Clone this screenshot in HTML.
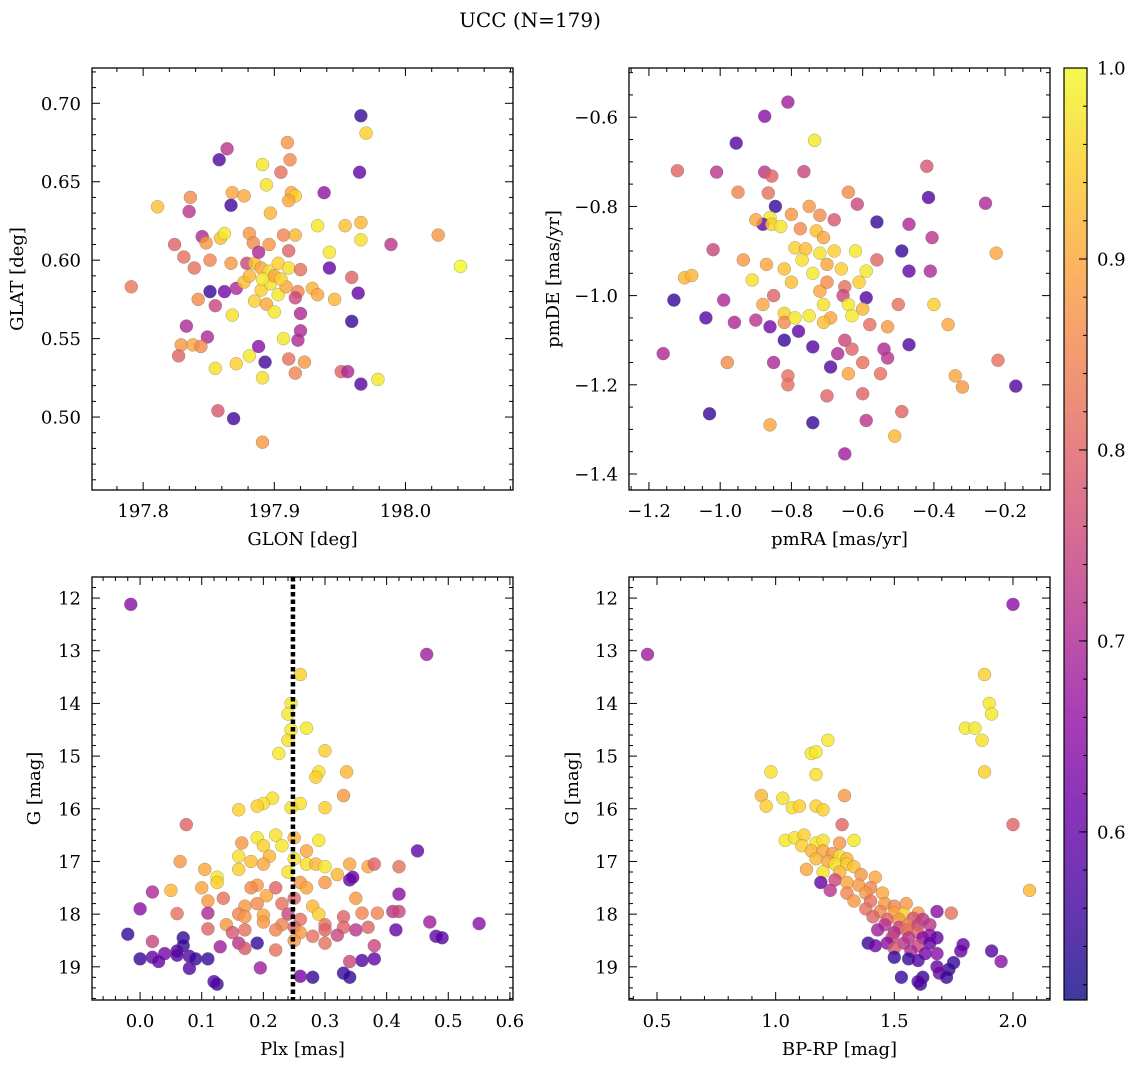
<!DOCTYPE html>
<html><head><meta charset="utf-8">
<style>
html,body{margin:0;padding:0;background:#fff;}
svg{display:block;font-family:"DejaVu Serif","Liberation Serif",serif;}
</style></head>
<body>
<svg id="fig" width="1136" height="1067" viewBox="0 0 1136 1067" xmlns="http://www.w3.org/2000/svg">
<defs>
<linearGradient id="cbgrad" x1="0" y1="1" x2="0" y2="0">
<stop offset="0" stop-color="#0d0887"/><stop offset="0.1" stop-color="#41049d"/><stop offset="0.2" stop-color="#6a00a8"/><stop offset="0.3" stop-color="#8f0da4"/><stop offset="0.4" stop-color="#b12a90"/><stop offset="0.5" stop-color="#cc4778"/><stop offset="0.6" stop-color="#e16462"/><stop offset="0.7" stop-color="#f2844b"/><stop offset="0.8" stop-color="#fca636"/><stop offset="0.9" stop-color="#fcce25"/><stop offset="1" stop-color="#f0f921"/>
</linearGradient>
</defs>
<text x="530" y="27" font-size="20" text-anchor="middle">UCC (N=179)</text>
</svg>
<script>
// Panel 1: GLON / GLAT
const glon=[197.966,197.970,197.858,197.864,197.910,197.891,197.912,197.905,197.965,197.938,197.894,197.913,197.868,197.811,197.867,197.836,197.835,197.916,197.911,197.877,197.897,197.933,197.954,197.966,198.025,198.042,197.989,197.845,197.848,197.859,197.862,197.881,197.884,197.896,197.907,197.916,197.942,197.966,197.824,197.831,197.851,197.867,197.879,197.885,197.890,197.896,197.903,197.911,197.920,197.942,197.959,197.791,197.839,197.842,197.851,197.862,197.871,197.877,197.890,197.897,197.903,197.909,197.918,197.929,197.933,197.946,197.964,197.959,197.855,197.885,197.894,197.900,197.916,197.920,197.868,197.833,197.849,197.829,197.838,197.844,197.827,197.893,197.881,197.871,197.891,197.911,197.907,197.920,197.918,197.923,197.916,197.888,197.855,197.951,197.956,197.966,197.979,197.857,197.869,197.891,197.900,197.905,197.891,197.881,197.911,197.888];
const glat=[0.692,0.681,0.664,0.671,0.675,0.661,0.664,0.656,0.656,0.643,0.648,0.643,0.643,0.634,0.635,0.640,0.631,0.641,0.638,0.641,0.630,0.622,0.622,0.624,0.616,0.596,0.610,0.615,0.611,0.614,0.617,0.617,0.611,0.610,0.616,0.616,0.605,0.613,0.610,0.602,0.600,0.598,0.598,0.598,0.595,0.593,0.598,0.595,0.594,0.595,0.589,0.583,0.595,0.575,0.580,0.580,0.582,0.586,0.581,0.585,0.578,0.583,0.580,0.582,0.578,0.575,0.579,0.561,0.571,0.574,0.572,0.567,0.576,0.566,0.565,0.558,0.551,0.546,0.546,0.545,0.539,0.535,0.539,0.534,0.525,0.537,0.550,0.555,0.549,0.535,0.528,0.545,0.531,0.529,0.529,0.521,0.524,0.504,0.499,0.484,0.590,0.588,0.588,0.590,0.606,0.605];
const prob1=[0.55,0.95,0.58,0.72,0.88,0.98,0.86,0.82,0.6,0.66,0.97,0.9,0.9,0.93,0.56,0.86,0.72,0.95,0.9,0.9,0.92,0.98,0.93,0.92,0.88,1.0,0.72,0.7,0.88,0.93,0.98,0.88,0.86,0.88,0.85,0.92,0.98,0.97,0.8,0.82,0.85,0.88,0.75,0.93,0.9,0.97,0.95,0.97,0.82,0.6,0.8,0.83,0.82,0.86,0.55,0.62,0.7,0.93,0.95,0.97,0.98,0.9,0.85,0.92,0.9,0.92,0.6,0.55,0.75,0.95,0.9,0.98,0.75,0.7,0.97,0.7,0.7,0.88,0.9,0.86,0.8,0.56,0.98,0.95,0.97,0.82,0.98,0.7,0.7,0.88,0.85,0.65,0.97,0.8,0.7,0.58,0.98,0.78,0.56,0.88,0.9,0.95,0.98,0.92,0.8,0.7];
// Panel 2: pmRA / pmDE
const pmra=[-0.81,-0.875,-0.735,-0.955,-1.12,-1.01,-0.875,-0.855,-0.765,-0.42,-0.255,-0.415,-0.95,-0.865,-0.64,-0.615,-0.75,-0.80,-0.845,-0.86,-0.88,-0.9,-0.72,-0.68,-0.56,-0.47,-0.855,-0.83,-0.775,-0.73,-0.71,-0.405,-0.79,-0.76,-0.72,-0.68,-0.62,-0.56,-0.49,-0.225,-1.02,-0.935,-1.1,-1.08,-0.87,-0.82,-0.77,-0.74,-0.70,-0.66,-0.59,-0.47,-0.41,-0.91,-0.80,-0.72,-0.70,-0.65,-0.61,-0.655,-0.59,-0.85,-0.99,-1.13,-0.88,-0.71,-0.64,-0.5,-0.40,-0.60,-0.82,-0.75,-0.69,-0.63,-1.04,-0.96,-0.90,-0.82,-0.79,-0.71,-0.58,-0.36,-0.86,-0.78,-0.53,-0.65,-0.82,-0.63,-0.54,-0.74,-0.98,-0.85,-0.67,-0.60,-0.53,-0.47,-0.22,-1.16,-0.69,-0.64,-0.55,-0.34,-0.81,-0.81,-0.32,-0.17,-0.60,-0.70,-1.03,-0.49,-0.59,-0.74,-0.86,-0.51,-0.65];
const pmde=[-0.566,-0.598,-0.652,-0.658,-0.72,-0.723,-0.723,-0.732,-0.722,-0.710,-0.793,-0.78,-0.768,-0.770,-0.768,-0.795,-0.800,-0.818,-0.800,-0.825,-0.84,-0.83,-0.82,-0.83,-0.835,-0.84,-0.84,-0.845,-0.85,-0.855,-0.87,-0.87,-0.893,-0.895,-0.905,-0.90,-0.90,-0.92,-0.90,-0.905,-0.897,-0.92,-0.96,-0.955,-0.93,-0.94,-0.92,-0.95,-0.93,-0.94,-0.945,-0.945,-0.945,-0.965,-0.97,-0.99,-0.97,-0.98,-0.97,-1.00,-1.005,-1.0,-1.01,-1.01,-1.02,-1.02,-1.02,-1.02,-1.02,-1.03,-1.04,-1.045,-1.05,-1.045,-1.05,-1.06,-1.055,-1.06,-1.05,-1.06,-1.065,-1.065,-1.07,-1.08,-1.07,-1.10,-1.1,-1.12,-1.12,-1.115,-1.15,-1.15,-1.13,-1.15,-1.14,-1.11,-1.145,-1.13,-1.16,-1.175,-1.175,-1.18,-1.18,-1.2,-1.205,-1.203,-1.22,-1.225,-1.265,-1.26,-1.28,-1.285,-1.29,-1.315,-1.355];
const prob2=[0.68,0.65,0.98,0.58,0.8,0.72,0.72,0.8,0.75,0.78,0.7,0.58,0.85,0.82,0.86,0.75,0.88,0.88,0.55,0.98,0.6,0.9,0.86,0.78,0.55,0.7,0.95,0.98,0.86,0.93,0.9,0.72,0.95,0.93,0.97,0.95,0.98,0.8,0.55,0.9,0.75,0.88,0.92,0.92,0.9,0.93,0.97,0.98,0.9,0.95,0.98,0.6,0.7,0.97,0.93,0.9,0.86,0.82,0.95,0.75,0.58,0.8,0.7,0.55,0.9,0.97,0.98,0.82,0.95,0.92,0.95,0.98,0.9,0.98,0.58,0.7,0.72,0.86,0.98,0.93,0.82,0.9,0.62,0.6,0.88,0.75,0.55,0.8,0.7,0.58,0.86,0.7,0.7,0.82,0.72,0.58,0.82,0.7,0.58,0.9,0.82,0.9,0.82,0.82,0.88,0.58,0.8,0.8,0.55,0.8,0.72,0.55,0.9,0.92,0.68];
// Panel 3: Plx / G
const plx=[-0.015,0.465,0.26,0.245,0.24,0.245,0.27,0.24,0.225,0.3,0.29,0.335,0.285,0.33,0.215,0.2,0.19,0.16,0.26,0.3,0.245,0.075,0.19,0.22,0.25,0.29,0.2,0.165,0.23,0.27,0.45,0.16,0.21,0.25,0.065,0.18,0.2,0.27,0.285,0.3,0.34,0.37,0.38,0.42,0.105,0.16,0.125,0.24,0.32,0.125,0.19,0.26,0.3,0.34,0.345,0.05,0.02,0.1,0.18,0.22,0.27,0.42,0.135,0.205,0.25,0.35,0.11,0.17,0.19,0.23,0.28,0.0,0.06,0.11,0.16,0.2,0.24,0.29,0.33,0.36,0.385,0.41,0.42,0.17,0.26,0.14,0.2,0.23,0.25,0.3,0.33,0.47,0.55,0.11,0.17,0.22,0.26,0.3,0.35,0.37,0.415,-0.02,0.07,0.15,0.28,0.32,0.48,0.49,0.02,0.16,0.19,0.25,0.3,0.38,0.07,0.13,0.22,0.17,0.06,0.04,0.08,0.09,0.11,0.0,0.02,0.06,0.03,0.36,0.38,0.34,0.08,0.195,0.26,0.28,0.33,0.34,0.125,0.12];
const gmag3=[12.12,13.07,13.45,14.0,14.2,14.5,14.47,14.7,14.95,14.9,15.3,15.3,15.4,15.75,15.8,15.9,15.95,16.02,15.9,15.98,15.98,16.3,16.55,16.5,16.55,16.6,16.7,16.65,16.7,16.8,16.8,16.9,16.9,16.95,17.0,17.0,17.05,17.05,17.05,17.1,17.05,17.1,17.05,17.1,17.15,17.15,17.3,17.2,17.25,17.4,17.45,17.4,17.4,17.35,17.3,17.55,17.58,17.5,17.5,17.5,17.5,17.62,17.7,17.65,17.7,17.7,17.75,17.85,17.8,17.8,17.85,17.9,17.99,17.98,18.0,18.02,18.0,18.0,18.05,17.98,17.98,17.95,17.95,18.05,18.1,18.2,18.15,18.2,18.25,18.2,18.25,18.15,18.18,18.28,18.3,18.3,18.35,18.3,18.3,18.25,18.3,18.38,18.45,18.35,18.42,18.4,18.42,18.45,18.52,18.55,18.55,18.5,18.55,18.6,18.6,18.62,18.68,18.65,18.7,18.75,18.8,18.85,18.85,18.85,18.82,18.78,18.9,18.88,18.85,18.9,19.03,19.02,19.18,19.2,19.12,19.2,19.33,19.28];
const prob3=[0.65,0.68,0.95,0.98,0.98,0.98,0.98,0.97,0.98,0.95,0.97,0.92,0.95,0.88,0.97,0.97,0.95,0.95,0.97,0.95,0.97,0.8,0.98,0.97,0.92,0.98,0.95,0.88,0.98,0.9,0.6,0.97,0.92,0.97,0.88,0.93,0.9,0.97,0.92,0.98,0.9,0.9,0.8,0.82,0.9,0.95,0.98,0.97,0.92,0.95,0.88,0.88,0.88,0.6,0.6,0.92,0.7,0.9,0.86,0.8,0.9,0.65,0.82,0.9,0.8,0.88,0.88,0.88,0.86,0.82,0.92,0.65,0.82,0.7,0.85,0.9,0.75,0.95,0.8,0.85,0.85,0.72,0.75,0.88,0.82,0.88,0.88,0.85,0.8,0.82,0.8,0.68,0.65,0.8,0.82,0.85,0.88,0.8,0.72,0.8,0.6,0.55,0.55,0.78,0.82,0.75,0.6,0.58,0.75,0.72,0.55,0.88,0.82,0.75,0.55,0.68,0.82,0.78,0.58,0.62,0.58,0.55,0.55,0.55,0.6,0.58,0.6,0.58,0.6,0.75,0.58,0.68,0.62,0.55,0.55,0.55,0.55,0.58];
// Panel 4: BP-RP / G
const bprp=[0.46,2.0,1.88,1.9,1.91,1.8,1.84,1.87,1.22,1.15,1.17,0.98,1.17,1.88,1.29,0.94,0.96,1.03,1.07,1.1,1.17,1.2,2.0,1.28,1.04,1.08,1.12,1.17,1.2,1.27,1.33,1.11,1.15,1.2,1.24,1.27,1.17,1.3,1.22,1.25,1.3,1.33,1.13,1.2,1.27,1.36,1.42,1.19,1.25,1.3,1.35,1.4,2.07,1.23,1.3,1.38,1.45,1.33,1.4,1.46,1.5,1.55,1.38,1.44,1.5,1.54,1.6,1.68,1.74,1.41,1.47,1.52,1.58,1.62,1.46,1.52,1.56,1.6,1.65,1.43,1.5,1.55,1.6,1.65,1.49,1.56,1.62,1.68,1.39,1.47,1.54,1.6,1.65,1.42,1.5,1.57,1.63,1.68,1.79,1.78,1.91,1.95,1.5,1.56,1.6,1.75,1.73,1.68,1.69,1.62,1.72,1.53,1.61,1.6];
const gmag4=[13.07,12.12,13.45,14.0,14.2,14.47,14.47,14.7,14.7,14.95,14.92,15.3,15.35,15.3,15.75,15.75,15.95,15.8,15.98,15.95,15.95,16.02,16.3,16.3,16.6,16.55,16.5,16.65,16.6,16.65,16.6,16.7,16.8,16.8,16.85,16.9,16.95,16.95,17.0,17.05,17.05,17.1,17.15,17.2,17.2,17.25,17.3,17.4,17.35,17.4,17.45,17.5,17.55,17.55,17.6,17.6,17.6,17.75,17.75,17.8,17.85,17.8,17.9,17.95,17.98,18.0,17.98,17.95,17.98,18.05,18.1,18.1,18.08,18.1,18.2,18.25,18.2,18.2,18.2,18.3,18.35,18.3,18.35,18.4,18.45,18.45,18.45,18.45,18.55,18.55,18.55,18.6,18.55,18.6,18.65,18.7,18.75,18.75,18.58,18.7,18.7,18.9,18.82,18.85,18.88,18.92,19.05,19.0,19.12,19.2,19.2,19.2,19.33,19.28];
const prob4=[0.68,0.65,0.95,0.98,0.98,0.98,0.98,0.97,0.98,0.98,0.98,0.97,0.97,0.95,0.88,0.92,0.95,0.97,0.97,0.95,0.95,0.95,0.8,0.8,0.98,0.97,0.95,0.97,0.97,0.88,0.98,0.95,0.92,0.9,0.88,0.97,0.92,0.92,0.9,0.97,0.95,0.93,0.9,0.97,0.92,0.88,0.9,0.6,0.75,0.9,0.88,0.85,0.92,0.72,0.85,0.88,0.9,0.88,0.82,0.88,0.85,0.88,0.82,0.85,0.9,0.95,0.88,0.65,0.82,0.8,0.8,0.88,0.78,0.72,0.72,0.75,0.85,0.75,0.72,0.68,0.7,0.82,0.8,0.65,0.75,0.72,0.65,0.6,0.55,0.65,0.72,0.75,0.6,0.62,0.78,0.7,0.62,0.65,0.6,0.6,0.58,0.65,0.55,0.55,0.58,0.55,0.55,0.6,0.62,0.55,0.55,0.55,0.55,0.58];
const plxLine=[0.248];
const cbTicks=[0.6,0.7,0.8,0.9,1.0];

const NS='http://www.w3.org/2000/svg';
const svg=document.getElementById('fig');
const CMIN=0.512,CMAX=1.0;
const FS=18;
const stops=[[0,13,8,135],[0.1,65,4,157],[0.2,106,0,168],[0.3,143,13,164],[0.4,177,42,144],[0.5,204,71,120],[0.6,225,100,98],[0.7,242,132,75],[0.8,252,166,54],[0.9,252,206,37],[1,240,249,33]];
function plasma(v){let t=(v-CMIN)/(CMAX-CMIN);t=Math.max(0,Math.min(1,t));
 for(let i=1;i<stops.length;i++){if(t<=stops[i][0]){const a=stops[i-1],b=stops[i];const f=(t-a[0])/(b[0]-a[0]);
 return 'rgb('+[1,2,3].map(k=>Math.round(a[k]+(b[k]-a[k])*f)).join(',')+')';}}return 'rgb(240,249,33)';}
function el(tag,attrs,parent){const e=document.createElementNS(NS,tag);for(const k in attrs)e.setAttribute(k,attrs[k]);(parent||svg).appendChild(e);return e;}
function fmt(v,d){const s=Math.abs(v).toFixed(d);return (v<-1e-9?'\u2212':'')+s;}

function panel(o){
 const g=el('g',{});
 
 
 const sx=v=>o.x0+(v-o.xd[0])/(o.xd[1]-o.xd[0])*(o.x1-o.x0);
 const sy=v=>o.y1-(v-o.yd[0])/(o.yd[1]-o.yd[0])*(o.y1-o.y0);
 for(let i=0;i<o.xs.length;i++){
  const c=el('circle',{cx:sx(o.xs[i]).toFixed(1),cy:sy(o.ys[i]).toFixed(1),r:6.5,fill:plasma(o.cs[i]),'fill-opacity':0.8,stroke:'#666','stroke-width':0.4,'stroke-opacity':0.7},g);
  
  
 }
 if(o.vline){for(const v of o.vline){const l=el('line',{x1:sx(v),x2:sx(v),y1:o.y0,y2:o.y1,stroke:'#000','stroke-width':4.5,'stroke-dasharray':'4.5,3'},g);
  
  }}
 const fr=el('rect',{x:o.x0,y:o.y0,width:o.x1-o.x0,height:o.y1-o.y0,fill:'none',stroke:'#000','stroke-width':1.3},g);
 
 
 const eps=1e-9;
 for(let k=Math.ceil((o.xd[0])/o.xmin-eps);k*o.xmin<=o.xd[1]+eps;k++){
  const v=k*o.xmin;const major=Math.abs(v/o.xmaj-Math.round(v/o.xmaj))<1e-6;const L=major?8:4;const x=sx(v);
  el('line',{x1:x,x2:x,y1:o.y1,y2:o.y1-L,stroke:'#000','stroke-width':1},g);
  el('line',{x1:x,x2:x,y1:o.y0,y2:o.y0+L,stroke:'#000','stroke-width':1},g);
  if(major){const t=el('text',{x:x,y:o.y1+27,'font-size':FS,'text-anchor':'middle'},g);t.textContent=fmt(v,o.xdec);
   
   }
 }
 for(let k=Math.ceil((o.yd[0])/o.ymin-eps);k*o.ymin<=o.yd[1]+eps;k++){
  const v=k*o.ymin;const major=Math.abs(v/o.ymaj-Math.round(v/o.ymaj))<1e-6;const L=major?8:4;const y=sy(v);
  el('line',{x1:o.x0,x2:o.x0+L,y1:y,y2:y,stroke:'#000','stroke-width':1},g);
  el('line',{x1:o.x1,x2:o.x1-L,y1:y,y2:y,stroke:'#000','stroke-width':1},g);
  if(major){const t=el('text',{x:o.x0-11,y:y+6.5,'font-size':FS,'text-anchor':'end'},g);t.textContent=o.yneg?fmt(-v,o.ydec):fmt(v,o.ydec);
   
   }
 }
 const xl=el('text',{x:(o.x0+o.x1)/2,y:o.y1+55,'font-size':FS,'text-anchor':'middle'},g);xl.textContent=o.xlab;
 
 
 const yx=o.ylx,yc=(o.y0+o.y1)/2;
 const yl=el('text',{x:yx,y:yc,'font-size':FS,'text-anchor':'middle',transform:'rotate(-90 '+yx+' '+yc+')'},g);yl.textContent=o.ylab;
 
 
}

panel({name:'glon-glat-panel',x0:92,x1:513,y0:68,y1:490,xd:[197.761,198.082],yd:[0.4535,0.7225],xs:glon,ys:glat,cs:prob1,xmaj:0.1,xmin:0.02,ymaj:0.05,ymin:0.01,xdec:1,ydec:2,xlab:'GLON [deg]',ylab:'GLAT [deg]',ylx:23});
panel({name:'pm-panel',x0:629,x1:1050,y0:68,y1:490,xd:[-1.256,-0.074],yd:[-1.4359,-0.4896],xs:pmra,ys:pmde,cs:prob2,xmaj:0.2,xmin:0.05,ymaj:0.2,ymin:0.05,xdec:1,ydec:1,xlab:'pmRA [mas/yr]',ylab:'pmDE [mas/yr]',ylx:559});
panel({name:'plx-g-panel',x0:92,x1:513,y0:577,y1:1000,xd:[-0.078,0.605],yd:[-19.63,-11.60],xs:plx,ys:gmag3.map(v=>-v),cs:prob3,xmaj:0.1,xmin:0.02,ymaj:1,ymin:0.2,xdec:1,ydec:0,yneg:true,xlab:'Plx [mas]',ylab:'G [mag]',ylx:40,vline:plxLine});
panel({name:'cmd-panel',x0:629,x1:1050,y0:577,y1:1000,xd:[0.382,2.156],yd:[-19.63,-11.60],xs:bprp,ys:gmag4.map(v=>-v),cs:prob4,xmaj:0.5,xmin:0.1,ymaj:1,ymin:0.2,xdec:1,ydec:0,yneg:true,xlab:'BP-RP [mag]',ylab:'G [mag]',ylx:578});

const cb=el('g',{});


const cbx=1064,cbw=23,cby0=68,cby1=1000;
el('rect',{x:cbx,y:cby0,width:cbw,height:cby1-cby0,fill:'url(#cbgrad)','fill-opacity':0.8,stroke:'#000','stroke-width':1.2},cb);
const cy=v=>cby1-(v-CMIN)/(CMAX-CMIN)*(cby1-cby0);
for(let k=Math.ceil(CMIN/0.02);k*0.02<=CMAX+1e-9;k++){const y=cy(k*0.02);el('line',{x1:cbx+cbw,x2:cbx+cbw-4,y1:y,y2:y,stroke:'#000','stroke-width':1},cb);}
for(const v of cbTicks){const y=cy(v);el('line',{x1:cbx+cbw,x2:cbx+cbw-8,y1:y,y2:y,stroke:'#000','stroke-width':1},cb);
 const t=el('text',{x:cbx+cbw+10,y:y+6.5,'font-size':FS},cb);t.textContent=v.toFixed(1);
 
 }
</script>
</body></html>
